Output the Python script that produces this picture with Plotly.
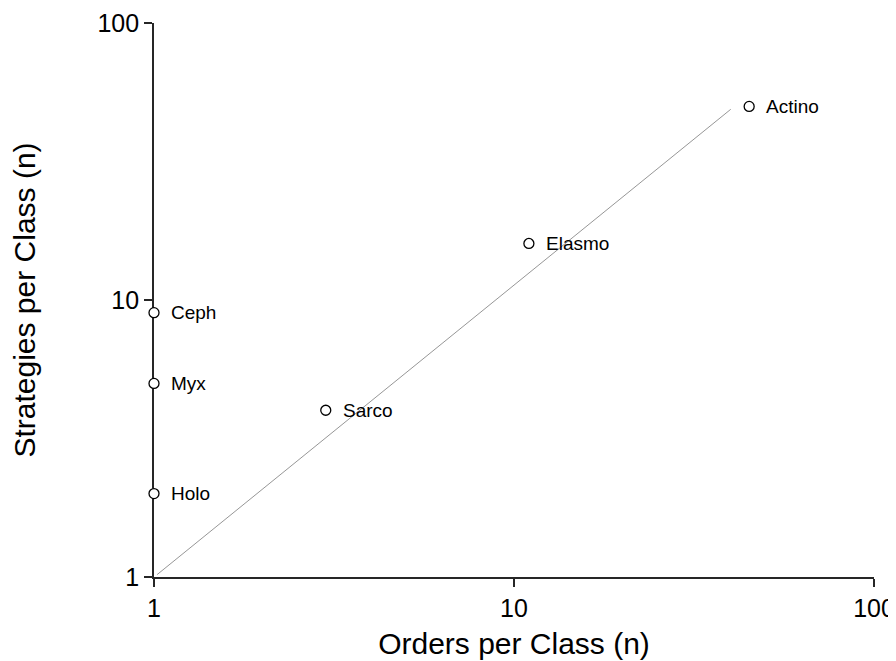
import numpy as np
import plotly.graph_objects as go

# Data
classes = ["Holo", "Myx", "Ceph", "Sarco", "Elasmo", "Actino"]
orders_per_class = [1, 1, 1, 3, 11, 45]
strategies_per_class = [2, 5, 9, 4, 16, 50]

fit_x = [1.02, 40.0]
fit_y = [1.02, 48.8]

x_tick_vals = [1, 10, 100]
y_tick_vals = [1, 10, 100]
x_tick_text = ["1", "10", "100"]
y_tick_text = ["1", "10", "100"]

FONT = "Liberation Sans, Arial, sans-serif"

fig = go.Figure()

fig.add_trace(go.Scatter(
    x=fit_x, y=fit_y, mode="lines",
    line=dict(color="#8a8a8a", width=0.9),
    hoverinfo="skip", showlegend=False,
))

fig.add_trace(go.Scatter(
    x=orders_per_class, y=strategies_per_class, mode="markers",
    marker=dict(size=10, color="white", line=dict(color="black", width=1.3)),
    cliponaxis=False, showlegend=False,
))

for name, xv, yv in zip(classes, orders_per_class, strategies_per_class):
    fig.add_annotation(
        x=np.log10(xv), y=np.log10(yv), text=name, showarrow=False,
        xanchor="left", yanchor="middle", xshift=15,
        font=dict(family=FONT, size=19, color="black"),
    )

axis_common = dict(
    type="log",
    showgrid=False, zeroline=False,
    showline=True, linecolor="#262626", linewidth=1.8,
    ticks="outside", ticklen=8, tickwidth=1.6, tickcolor="#262626",
    tickfont=dict(family=FONT, size=25, color="black"),
    layer="below traces",
    mirror=False,
)

fig.update_xaxes(
    **axis_common,
    range=[0, 2],
    tickvals=x_tick_vals, ticktext=x_tick_text,
    title=dict(text="Orders per Class (n)", font=dict(family=FONT, size=30, color="black"), standoff=12),
)
fig.update_yaxes(
    **axis_common,
    range=[0, 2],
    tickvals=y_tick_vals, ticktext=y_tick_text,
    title=dict(text="Strategies per Class (n)", font=dict(family=FONT, size=30, color="black"), standoff=53),
)

# page body has an 8px default margin, so the figure is 8px smaller
fig.update_layout(
    width=888, height=653,
    margin=dict(l=146, r=22, t=15, b=84, autoexpand=False),
    paper_bgcolor="white", plot_bgcolor="white",
    showlegend=False,
)

fig.write_html("out.html")
